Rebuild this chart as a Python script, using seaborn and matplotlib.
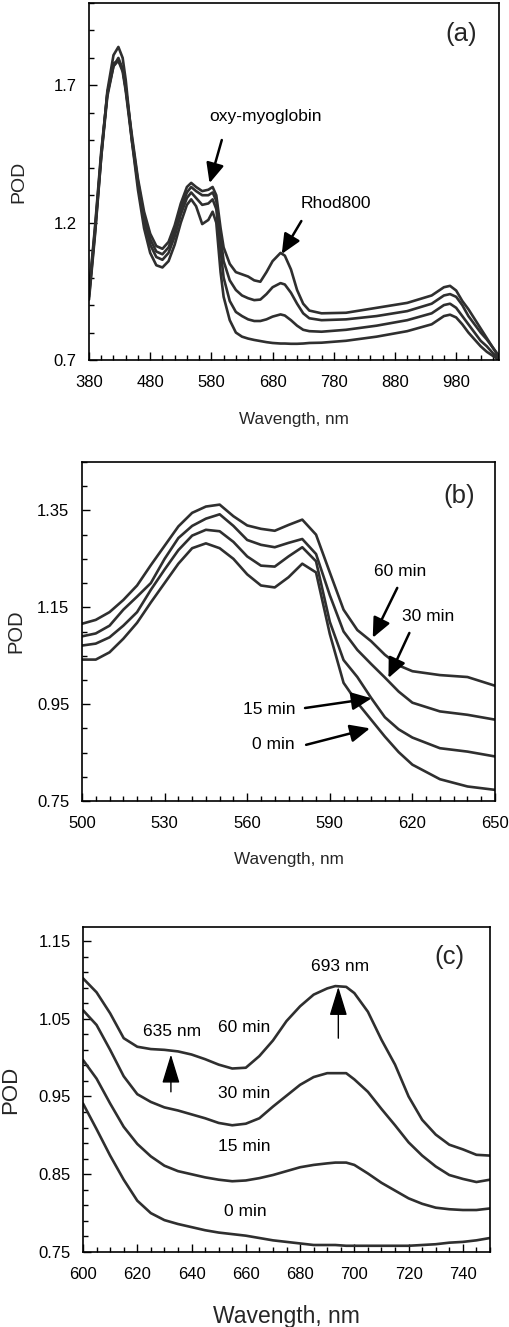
import numpy as np
import pandas as pd
import matplotlib
matplotlib.use("Agg")
import matplotlib.pyplot as plt
from matplotlib.ticker import MultipleLocator
import seaborn as sns

# ---- data (wavelength in nm, POD) ----
times = ["0 min", "15 min", "30 min", "60 min"]

# panel (a): full spectrum
wl_a = [380, 390, 400, 410, 420, 428, 435, 440, 450, 460, 470, 480, 490, 500,
        510, 520, 530, 540, 547, 555, 565, 575, 582, 588, 595, 600, 610, 620,
        630, 640, 650, 660, 670, 680, 693, 700, 710, 720, 730, 740, 760, 800,
        850, 900, 940, 960, 970, 980, 990, 1000, 1010, 1020, 1030, 1040, 1050]
pod_a_0 = [0.92, 1.16, 1.44, 1.68, 1.81, 1.84, 1.80, 1.72, 1.50, 1.32, 1.18, 1.09, 1.045, 1.037,
           1.06, 1.12, 1.20, 1.265, 1.285, 1.26, 1.195, 1.21, 1.24, 1.20, 1.02, 0.93, 0.845, 0.80,
           0.785, 0.778, 0.773, 0.769, 0.765, 0.762, 0.760, 0.760, 0.759, 0.759, 0.760, 0.762, 0.763, 0.770,
           0.785, 0.805, 0.83, 0.86, 0.865, 0.855, 0.83, 0.80, 0.775, 0.75, 0.73, 0.715, 0.70]
pod_a_15 = [0.93, 1.17, 1.44, 1.66, 1.77, 1.79, 1.75, 1.68, 1.50, 1.34, 1.21, 1.12, 1.075, 1.065,
            1.09, 1.15, 1.23, 1.29, 1.31, 1.29, 1.265, 1.27, 1.285, 1.25, 1.10, 1.00, 0.915, 0.875,
            0.86, 0.848, 0.842, 0.842, 0.848, 0.858, 0.866, 0.862, 0.845, 0.825, 0.81, 0.805, 0.803, 0.81,
            0.825, 0.845, 0.87, 0.90, 0.905, 0.89, 0.86, 0.83, 0.80, 0.77, 0.75, 0.725, 0.705]
pod_a_30 = [0.94, 1.18, 1.45, 1.67, 1.78, 1.79, 1.76, 1.69, 1.51, 1.35, 1.22, 1.14, 1.095, 1.085,
            1.11, 1.17, 1.25, 1.31, 1.33, 1.315, 1.30, 1.30, 1.31, 1.28, 1.15, 1.06, 0.99, 0.955,
            0.935, 0.925, 0.918, 0.92, 0.94, 0.965, 0.98, 0.975, 0.945, 0.905, 0.87, 0.852, 0.845, 0.848,
            0.86, 0.878, 0.905, 0.935, 0.94, 0.93, 0.90, 0.86, 0.83, 0.80, 0.775, 0.745, 0.715]
pod_a_60 = [0.95, 1.19, 1.46, 1.67, 1.77, 1.80, 1.76, 1.69, 1.52, 1.36, 1.24, 1.16, 1.115, 1.105,
            1.13, 1.19, 1.27, 1.33, 1.345, 1.33, 1.315, 1.32, 1.33, 1.30, 1.18, 1.11, 1.05, 1.02,
            1.012, 1.004, 0.99, 0.985, 1.02, 1.06, 1.09, 1.08, 1.03, 0.955, 0.905, 0.88, 0.870, 0.872,
            0.89, 0.908, 0.935, 0.965, 0.97, 0.953, 0.915, 0.885, 0.85, 0.815, 0.78, 0.745, 0.71]

# panel (b): 500-650 nm
wl_b = [500, 505, 510, 515, 520, 525, 530, 535, 540, 545, 550, 555, 560, 565,
        570, 575, 580, 585, 590, 595, 600, 605, 610, 615, 620, 630, 640, 650]
pod_b_0 = [1.042, 1.042, 1.057, 1.085, 1.118, 1.160, 1.200, 1.240, 1.272, 1.282, 1.272, 1.250, 1.218, 1.195,
           1.191, 1.212, 1.240, 1.222, 1.095, 0.994, 0.953, 0.918, 0.883, 0.851, 0.825, 0.795, 0.780, 0.773]
pod_b_15 = [1.071, 1.075, 1.088, 1.112, 1.140, 1.186, 1.228, 1.268, 1.298, 1.310, 1.307, 1.285, 1.255, 1.236,
            1.234, 1.255, 1.274, 1.245, 1.120, 1.041, 1.006, 0.963, 0.923, 0.898, 0.881, 0.859, 0.852, 0.842]
pod_b_30 = [1.090, 1.096, 1.112, 1.145, 1.172, 1.200, 1.250, 1.293, 1.318, 1.333, 1.342, 1.318, 1.289, 1.279,
            1.274, 1.283, 1.291, 1.260, 1.175, 1.100, 1.062, 1.033, 1.005, 0.976, 0.953, 0.935, 0.928, 0.918]
pod_b_60 = [1.116, 1.124, 1.140, 1.165, 1.195, 1.237, 1.277, 1.317, 1.345, 1.358, 1.362, 1.338, 1.319, 1.312,
            1.308, 1.320, 1.331, 1.300, 1.222, 1.145, 1.103, 1.080, 1.052, 1.030, 1.018, 1.010, 1.006, 0.988]

# panel (c): 600-750 nm
wl_c = [600, 605, 610, 615, 620, 625, 630, 635, 640, 645, 650, 655, 660, 665, 670, 675,
        680, 685, 690, 693, 697, 700, 705, 710, 715, 720, 725, 730, 735, 740, 745, 750]
pod_c_0 = [0.941, 0.908, 0.874, 0.843, 0.816, 0.800, 0.791, 0.786, 0.782, 0.778, 0.775, 0.773, 0.771, 0.768, 0.765, 0.763,
           0.761, 0.759, 0.759, 0.759, 0.758, 0.758, 0.758, 0.758, 0.758, 0.758, 0.759, 0.760, 0.762, 0.763, 0.765, 0.768]
pod_c_15 = [0.997, 0.973, 0.941, 0.911, 0.889, 0.873, 0.861, 0.854, 0.850, 0.846, 0.843, 0.841, 0.842, 0.845, 0.849, 0.854,
            0.859, 0.862, 0.864, 0.865, 0.865, 0.862, 0.851, 0.839, 0.829, 0.819, 0.812, 0.807, 0.805, 0.804, 0.804, 0.806]
pod_c_30 = [1.061, 1.042, 1.010, 0.976, 0.953, 0.943, 0.936, 0.932, 0.927, 0.922, 0.916, 0.913, 0.915, 0.922, 0.937, 0.951,
            0.965, 0.975, 0.980, 0.980, 0.980, 0.972, 0.956, 0.934, 0.913, 0.891, 0.874, 0.860, 0.849, 0.844, 0.840, 0.843]
pod_c_60 = [1.102, 1.084, 1.057, 1.025, 1.014, 1.011, 1.010, 1.008, 1.004, 0.998, 0.991, 0.986, 0.987, 1.002, 1.022, 1.047,
            1.066, 1.081, 1.089, 1.092, 1.091, 1.083, 1.059, 1.023, 0.991, 0.950, 0.920, 0.901, 0.888, 0.882, 0.875, 0.874]


def long_df(wl, curves):
    frames = [pd.DataFrame({"wl": wl, "pod": vals, "time": t}) for t, vals in zip(times, curves)]
    return pd.concat(frames, ignore_index=True)


df_a = long_df(wl_a, [pod_a_0, pod_a_15, pod_a_30, pod_a_60])
df_b = long_df(wl_b, [pod_b_0, pod_b_15, pod_b_30, pod_b_60])
df_c = long_df(wl_c, [pod_c_0, pod_c_15, pod_c_30, pod_c_60])

sns.set_theme(style="ticks")
plt.rcParams["font.family"] = ["Liberation Sans", "DejaVu Sans"]

line_col = "#2f2f2f"
W, H = 510, 1327
fig = plt.figure(figsize=(W / 100, H / 100), dpi=100)


def make_axes(left, top, right, bottom):
    # pixel box -> figure fraction
    return fig.add_axes([left / W, 1 - bottom / H, (right - left) / W, (bottom - top) / H])


def draw_curves(ax, df):
    sns.lineplot(data=df, x="wl", y="pod", hue="time", palette=[line_col] * 4,
                 estimator=None, legend=False, linewidth=1.9, ax=ax)


def style_axes(ax, xlim, ylim, xmaj, xmin, ymaj, ymin_loc, ylabels, lab_size, xlab_y, ylab_x):
    ax.set_xlim(*xlim)
    ax.set_ylim(*ylim)
    ax.set_xticks(xmaj)
    ax.xaxis.set_minor_locator(MultipleLocator(xmin))
    ax.set_yticks(ymaj)
    ax.set_yticklabels(ylabels)
    ax.yaxis.set_minor_locator(ymin_loc)
    ax.tick_params(which="both", direction="in", top=False, right=False,
                   labelsize=12, colors="black", width=1.0)
    ax.tick_params(axis="x", which="major", length=6, pad=11)
    ax.tick_params(axis="y", which="major", length=6, pad=9)
    ax.tick_params(which="minor", length=3.5)
    for sp in ax.spines.values():
        sp.set_visible(True)
        sp.set_color("black")
        sp.set_linewidth(1.2)
    ax.set_xlabel("Wavength, nm", fontsize=lab_size[0])
    ax.set_ylabel("POD", fontsize=lab_size[1])
    ax.xaxis.set_label_coords(0.5, xlab_y)
    ax.yaxis.set_label_coords(ylab_x, 0.5)


arrow_thick = dict(arrowstyle="-|>,head_length=0.6,head_width=0.27", lw=1.8,
                   color="black", mutation_scale=20, shrinkA=0, shrinkB=0)
arrow_thin = dict(arrowstyle="-|>,head_length=1.8,head_width=0.55", lw=1.0,
                  color="black", mutation_scale=10, shrinkA=0, shrinkB=0)
txt = dict(fontsize=12.5, color="black")

# ---- panel (a) ----
ax = make_axes(89, 3, 499, 360)
draw_curves(ax, df_a)
style_axes(ax, (380, 1050), (0.7, 2.0), range(380, 981, 100), 20,
           [0.7, 1.2, 1.7], MultipleLocator(0.1), ["0.7", "1.2", "1.7"],
           (12.3, 14), -0.145, -0.15)
ax.text(989, 1.887, "(a)", fontsize=18.5, ha="center", va="center")
ax.text(669, 1.588, "oxy-myoglobin", ha="center", va="center", **txt)
ax.annotate("", xy=(577, 1.344), xytext=(597, 1.501), arrowprops=arrow_thick)
ax.text(783, 1.270, "Rhod800", ha="center", va="center", **txt)
ax.annotate("", xy=(695, 1.086), xytext=(727, 1.206), arrowprops=arrow_thick)

# ---- panel (b) ----
ax = make_axes(82, 462, 495, 801)
draw_curves(ax, df_b)
style_axes(ax, (500, 650), (0.75, 1.45), range(500, 651, 30), 5,
           [0.75, 0.95, 1.15, 1.35], MultipleLocator(0.05),
           ["0.75", "0.95", "1.15", "1.35"], (12.3, 14.5), -0.15, -0.138)
ax.text(636.9, 1.380, "(b)", fontsize=18.5, ha="center", va="center")
ax.text(615.5, 1.224, "60 min", ha="center", va="center", **txt)
ax.annotate("", xy=(605.6, 1.087), xytext=(614.5, 1.190), arrowprops=arrow_thick)
ax.text(625.6, 1.131, "30 min", ha="center", va="center", **txt)
ax.annotate("", xy=(611.3, 1.004), xytext=(618.9, 1.097), arrowprops=arrow_thick)
ax.text(577.4, 0.938, "15 min", ha="right", va="center", **txt)
ax.annotate("", xy=(605.2, 0.962), xytext=(581.0, 0.942), arrowprops=arrow_thick)
ax.text(577.4, 0.866, "0 min", ha="right", va="center", **txt)
ax.annotate("", xy=(604.6, 0.900), xytext=(581.4, 0.866), arrowprops=arrow_thick)

# ---- panel (c) ----
ax = make_axes(83, 927, 490, 1252)
draw_curves(ax, df_c)
style_axes(ax, (600, 750), (0.75, 1.168), range(600, 741, 20), 5,
           [0.75, 0.85, 0.95, 1.05, 1.15], MultipleLocator(0.02, offset=0.01),
           ["0.75", "0.85", "0.95", "1.05", "1.15"], (16.5, 16), -0.163, -0.151)
ax.text(735.2, 1.129, "(c)", fontsize=18.5, ha="center", va="center")
ax.text(694.9, 1.117, "693 nm", ha="center", va="center", **txt)
ax.annotate("", xy=(694.1, 1.091), xytext=(694.1, 1.025), arrowprops=arrow_thin)
ax.text(633.0, 1.034, "635 nm", ha="center", va="center", **txt)
ax.annotate("", xy=(632.4, 1.004), xytext=(632.4, 0.956), arrowprops=arrow_thin)
ax.text(659.4, 1.039, "60 min", ha="center", va="center", **txt)
ax.text(659.4, 0.954, "30 min", ha="center", va="center", **txt)
ax.text(659.4, 0.886, "15 min", ha="center", va="center", **txt)
ax.text(660.0, 0.802, "0 min", ha="center", va="center", **txt)

fig.savefig("out.png", dpi=100, facecolor="white")
